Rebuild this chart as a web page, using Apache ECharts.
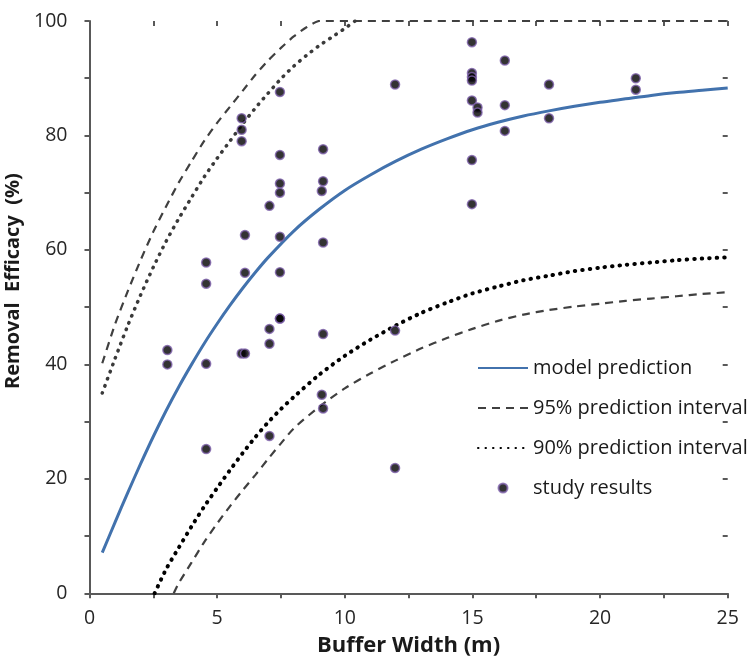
<!DOCTYPE html>
<html><head><meta charset="utf-8">
<script src="https://cdn.jsdelivr.net/npm/echarts@6/dist/echarts.min.js"></script>
<style>html,body{margin:0;padding:0;background:#fff}#c{width:747px;height:667px}</style>
</head><body><div id="c"></div>
<script>
// ---- data ----
const studyX = [3.05,3.05,4.57,4.57,4.57,4.57,5.96,5.96,5.96,5.96,6.09,6.09,6.09,7.05,7.05,7.05,7.05,7.46,7.46,7.46,7.46,7.46,7.46,7.46,7.46,9.1,9.1,9.15,9.15,9.15,9.15,9.15,11.97,11.97,11.97,14.98,14.98,14.98,14.98,14.98,14.98,14.98,15.2,15.2,16.27,16.27,16.27,18.0,18.0,21.4,21.4];
const studyY = [42.5,40.0,57.8,54.1,40.1,25.2,83.0,81.0,79.0,41.9,62.6,56.0,41.9,67.7,46.2,43.6,27.5,87.6,76.6,71.6,70.0,62.3,56.1,48.0,48.0,70.3,34.7,77.6,72.0,61.3,45.3,32.3,88.9,45.9,21.9,96.3,90.9,90.2,89.6,86.1,75.7,68.0,84.9,84.0,93.1,85.3,80.8,88.9,83.0,90.0,88.0];

const modelX = [0.5,1,1.5,2,2.5,3,3.5,4,4.5,5,5.5,6,6.5,7,8,9,10,11,12,13,14,15,16,17,18,19,20,21,22,23,24,25];
const modelY = [7.1,12.4,17.6,22.6,27.4,31.9,36.1,40.0,43.7,47.1,50.3,53.3,56.1,58.7,63.3,67.1,70.4,73.1,75.5,77.6,79.4,81.0,82.3,83.4,84.3,85.1,85.8,86.4,87.0,87.5,87.9,88.3];

const up95X = [0.5,1,1.5,2,2.5,3,3.5,4,4.5,5,5.5,6,6.5,7,7.5,8,8.5,9,25];
const up95Y = [40.2,47.0,52.8,58.2,63.2,67.6,71.8,75.5,79.1,82.2,85.0,87.8,90.6,93.1,95.3,97.3,98.9,100,100];

const up90X = [0.5,1,1.5,2,2.5,3,3.5,4,4.5,5,5.5,6,6.5,7,7.5,8,8.5,9,9.5,10,10.4];
const up90Y = [35.0,41.0,46.8,52.1,57.0,61.5,65.5,69.2,72.8,76.0,79.0,82.0,84.8,87.4,89.9,92.1,94.0,95.7,97.2,98.7,100];

const lo90X = [2.55,3,3.5,4,4.5,5,5.5,6,6.5,7,7.5,8,9,10,11,12,13,14,15,16,17,18,19,20,21,22,23,24,25];
const lo90Y = [0,4.2,8.0,11.7,15.2,18.4,21.5,24.5,27.3,29.9,32.2,34.3,38.2,41.5,44.3,46.8,49.0,50.8,52.4,53.6,54.7,55.5,56.3,56.9,57.4,57.8,58.2,58.5,58.7];

const lo95X = [3.3,3.5,4,4.5,5,5.5,6,6.5,7,7.5,8,9,10,11,12,13,14,15,16,17,18,19,20,21,22,23,24,25];
const lo95Y = [0,1.8,5.4,9.0,12.2,15.2,18.0,20.7,23.5,26.2,28.8,32.6,35.8,38.4,40.7,42.8,44.6,46.2,47.6,48.7,49.5,50.1,50.6,51.1,51.5,51.9,52.3,52.6];

const xTickMin = 0, xTickMax = 25, xTickStep = 5;
const yTickMin = 0, yTickMax = 100, yTickStep = 20;

const legendNames = ['model prediction','95% prediction interval','90% prediction interval','study results'];

// ---- chart ----
const zip = (xs, ys) => xs.map((x, i) => [x, ys[i]]);
const FONT = '"Open Sans", "Noto Sans", sans-serif';
const AX = '#595959';

function xAxisDef(inside) {
  return {
    type: 'value', min: xTickMin, max: xTickMax, interval: xTickStep,
    axisLine: { show: !inside, onZero: false, lineStyle: { color: AX, width: 2 } },
    axisTick: { show: true, inside: inside, length: 5, lineStyle: { color: AX, width: 2 } },
    minorTick: { show: true, splitNumber: 2, length: 5, lineStyle: { color: AX, width: 2 } },
    axisLabel: inside ? { show: false } : { show: true, fontSize: 19.5, color: '#262626', fontFamily: FONT, margin: 15 },
    splitLine: { show: false },
    name: inside ? '' : 'Buffer Width (m)', nameLocation: 'middle', nameGap: 41,
    nameTextStyle: { fontSize: 22, fontWeight: 'bold', color: '#1a1a1a', fontFamily: FONT }
  };
}
function yAxisDef(inside) {
  return {
    type: 'value', min: yTickMin, max: yTickMax, interval: yTickStep,
    axisLine: { show: !inside, onZero: false, lineStyle: { color: AX, width: 2 } },
    axisTick: { show: true, inside: inside, length: 5, lineStyle: { color: AX, width: 2 } },
    minorTick: { show: true, splitNumber: 2, length: 5, lineStyle: { color: AX, width: 2 } },
    axisLabel: inside ? { show: false } : { show: true, fontSize: 19.5, color: '#262626', fontFamily: FONT, margin: 22 },
    splitLine: { show: false },
    name: inside ? '' : 'Removal  Efficacy  (%)', nameLocation: 'middle', nameGap: 52,
    nameTextStyle: { fontSize: 20, fontWeight: 'bold', color: '#1a1a1a', fontFamily: FONT, padding: [0, 0, 0, 52] }
  };
}

const dashStyle = { color: '#404040', width: 2.2, type: [8, 6] };
const hideSym = { opacity: 0 };
const chart = echarts.init(document.getElementById('c'), null, { renderer: 'canvas' });
chart.setOption({
  animation: false,
  backgroundColor: '#fff',
  grid: { left: 89.5, right: 19.3, top: 21, bottom: 73.7, containLabel: false, outerBoundsMode: 'none' },
  xAxis: [xAxisDef(false), xAxisDef(true)],
  yAxis: [yAxisDef(false), yAxisDef(true)],
  legend: {
    orient: 'vertical', left: 477, top: 357, padding: 0,
    data: [
      { name: legendNames[0], itemStyle: hideSym },
      { name: legendNames[1], itemStyle: hideSym },
      { name: legendNames[2], itemStyle: hideSym },
      { name: legendNames[3] }
    ],
    itemWidth: 50, itemHeight: 9, itemGap: 18,
    textStyle: { fontSize: 20, color: '#1a1a1a', fontFamily: FONT, lineHeight: 22 },
    selectedMode: false
  },
  series: [
    { name: legendNames[0], type: 'line', data: zip(modelX, modelY), smooth: 0.3, symbol: 'none',
      lineStyle: { color: '#4272ad', width: 3 }, itemStyle: { color: '#4272ad' }, z: 3 },
    { name: legendNames[1], type: 'line', data: zip(lo95X, lo95Y), smooth: 0.25, symbol: 'none',
      lineStyle: dashStyle, itemStyle: { color: '#404040' }, z: 2 },
    { name: legendNames[1], type: 'line', data: zip(up95X, up95Y), smooth: 0.2, symbol: 'none',
      lineStyle: dashStyle, itemStyle: { color: '#404040' }, z: 2 },
    { name: legendNames[2], type: 'line', data: zip(lo90X, lo90Y), smooth: 0.25, symbol: 'none',
      lineStyle: { color: '#000', width: 4, type: [0.5, 7], cap: 'round' }, itemStyle: { color: '#000' }, z: 2 },
    { name: legendNames[2], type: 'line', data: zip(up90X, up90Y), smooth: 0.25, symbol: 'none',
      lineStyle: { color: '#3a3a3a', width: 3.5, type: [0.5, 7], cap: 'round' }, itemStyle: { color: '#3a3a3a' }, z: 2 },
    { name: legendNames[3], type: 'scatter', data: zip(studyX, studyY), symbol: 'circle', symbolSize: 9,
      itemStyle: { color: '#000', borderColor: '#7f63ad', borderWidth: 1.5 }, z: 4 }
  ]
});
</script>
</body></html>
